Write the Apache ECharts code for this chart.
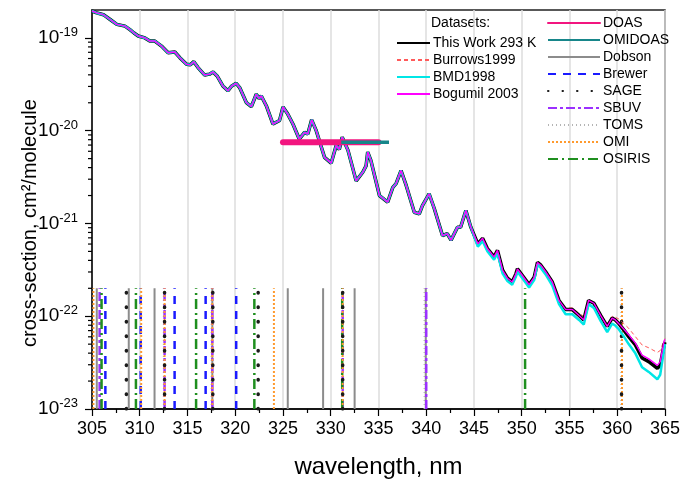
<!DOCTYPE html>
<html>
<head>
<meta charset="utf-8">
<script src="https://cdn.jsdelivr.net/npm/echarts@6/dist/echarts.min.js"></script>
<style>
html, body { margin: 0; padding: 0; background: #fff; }
#chart { width: 683px; height: 484px; }
</style>
</head>
<body>
<div id="chart"></div>
<script>
// wavelength grid, nm
const wavelengths = [
  305.0, 305.5, 306.2, 306.9, 307.6, 308.45, 308.97, 309.4, 309.84, 310.54,
  311.06, 311.58, 312.28, 312.97, 313.67, 314.2, 314.9, 315.3, 315.66, 316.1,
  316.8, 317.3, 317.68, 318.1, 318.7, 319.24, 319.6, 320.1, 320.46, 321.16,
  321.69, 322.2, 322.5, 322.73, 323.25, 323.95, 324.64, 325.0, 325.5, 326.04,
  326.7, 327.26, 327.6, 328.0, 328.48, 329.35, 330.05, 330.57, 330.9, 331.2,
  331.8, 332.66, 333.35, 333.7, 333.87, 334.2, 335.1, 335.96, 336.5, 336.84,
  337.36, 337.9, 338.75, 339.27, 339.6, 340.3, 340.84, 341.7, 342.2, 342.6,
  343.27, 343.6, 344.15, 344.67, 345.4, 345.9, 346.4, 347.1, 347.46, 348.0,
  348.5, 349.0, 349.4, 349.55, 350.07, 350.77, 351.3, 351.65, 352.0, 352.5,
  353.2, 353.9, 354.6, 355.3, 356.0, 356.5, 357.0, 357.56, 358.26, 358.95,
  359.47, 359.8, 360.17, 360.7, 361.2, 361.9, 362.6, 363.3, 364.2, 364.5,
  364.9, 365.0
];

// cross-sections, cm2/molecule
const thisWork = [
  1.95e-19, 1.86e-19, 1.78e-19, 1.58e-19, 1.40e-19, 1.34e-19, 1.23e-19, 1.13e-19, 1.05e-19, 1.00e-19,
  9.25e-20, 9.25e-20, 8.17e-20, 6.92e-20, 7.05e-20, 6.12e-20, 5.19e-20, 5.13e-20, 5.55e-20, 4.79e-20,
  3.98e-20, 4.07e-20, 4.30e-20, 3.89e-20, 3.04e-20, 2.69e-20, 3.02e-20, 3.24e-20, 2.92e-20, 2.01e-20,
  1.82e-20, 2.47e-20, 2.22e-20, 2.37e-20, 1.86e-20, 1.18e-20, 1.29e-20, 1.80e-20, 1.51e-20, 1.18e-20,
  8.13e-21, 9.59e-21, 9.20e-21, 1.31e-20, 1.00e-20, 5.16e-21, 4.47e-21, 6.92e-21, 6.31e-21, 8.51e-21,
  6.17e-21, 2.88e-21, 3.56e-21, 4.17e-21, 5.89e-21, 4.79e-21, 2.00e-21, 1.70e-21, 2.45e-21, 2.69e-21,
  3.72e-21, 2.57e-21, 1.32e-21, 1.27e-21, 1.56e-21, 2.09e-21, 1.45e-21, 7.41e-22, 7.76e-22, 6.61e-22,
  9.12e-22, 9.12e-22, 1.38e-21, 9.12e-22, 6.03e-22, 6.92e-22, 5.37e-22, 4.37e-22, 5.13e-22, 3.13e-22,
  2.57e-22, 2.34e-22, 2.88e-22, 3.24e-22, 2.75e-22, 2.19e-22, 2.63e-22, 3.80e-22, 3.55e-22, 3.02e-22,
  2.34e-22, 1.48e-22, 1.18e-22, 1.18e-22, 1.02e-22, 9.12e-23, 1.48e-22, 1.38e-22, 1.02e-22, 7.76e-23,
  9.55e-23, 9.12e-23, 8.32e-23, 7.08e-23, 6.03e-23, 4.90e-23, 3.55e-23, 3.24e-23, 2.75e-23, 2.95e-23,
  4.90e-23, 5.25e-23
];

const burrows1999 = [
  1.95e-19, 1.86e-19, 1.78e-19, 1.58e-19, 1.40e-19, 1.34e-19, 1.23e-19, 1.13e-19, 1.05e-19, 1.00e-19,
  9.25e-20, 9.25e-20, 8.17e-20, 6.92e-20, 7.05e-20, 6.12e-20, 5.19e-20, 5.13e-20, 5.55e-20, 4.79e-20,
  3.98e-20, 4.07e-20, 4.30e-20, 3.89e-20, 3.04e-20, 2.69e-20, 3.02e-20, 3.24e-20, 2.92e-20, 2.01e-20,
  1.82e-20, 2.47e-20, 2.22e-20, 2.37e-20, 1.86e-20, 1.18e-20, 1.29e-20, 1.80e-20, 1.51e-20, 1.18e-20,
  8.13e-21, 9.59e-21, 9.20e-21, 1.31e-20, 1.00e-20, 5.16e-21, 4.47e-21, 6.92e-21, 6.31e-21, 8.51e-21,
  6.17e-21, 2.88e-21, 3.56e-21, 4.17e-21, 5.89e-21, 4.79e-21, 2.00e-21, 1.70e-21, 2.45e-21, 2.69e-21,
  3.72e-21, 2.57e-21, 1.32e-21, 1.27e-21, 1.56e-21, 2.09e-21, 1.45e-21, 7.41e-22, 7.76e-22, 6.61e-22,
  9.12e-22, 9.12e-22, 1.38e-21, 9.12e-22, 6.03e-22, 6.92e-22, 5.37e-22, 4.37e-22, 5.13e-22, 3.13e-22,
  2.57e-22, 2.34e-22, 2.88e-22, 3.24e-22, 2.75e-22, 2.19e-22, 2.63e-22, 3.80e-22, 3.55e-22, 3.02e-22,
  2.34e-22, 1.48e-22, 1.23e-22, 1.23e-22, 1.07e-22, 1.00e-22, 1.48e-22, 1.38e-22, 1.05e-22, 8.32e-23,
  1.00e-22, 9.77e-23, 9.33e-23, 8.32e-23, 7.41e-23, 6.03e-23, 4.90e-23, 4.57e-23, 4.07e-23, 4.27e-23,
  5.50e-23, 5.75e-23
];

const bmd1998 = [
  1.95e-19, 1.86e-19, 1.78e-19, 1.58e-19, 1.40e-19, 1.34e-19, 1.23e-19, 1.13e-19, 1.05e-19, 1.00e-19,
  9.25e-20, 9.25e-20, 8.17e-20, 6.92e-20, 7.05e-20, 6.12e-20, 5.19e-20, 5.13e-20, 5.55e-20, 4.79e-20,
  3.98e-20, 4.07e-20, 4.30e-20, 3.89e-20, 3.04e-20, 2.69e-20, 3.02e-20, 3.24e-20, 2.92e-20, 2.01e-20,
  1.82e-20, 2.47e-20, 2.22e-20, 2.37e-20, 1.86e-20, 1.18e-20, 1.29e-20, 1.80e-20, 1.51e-20, 1.18e-20,
  8.13e-21, 9.59e-21, 9.20e-21, 1.31e-20, 1.00e-20, 5.16e-21, 4.47e-21, 6.92e-21, 6.31e-21, 8.51e-21,
  6.17e-21, 2.88e-21, 3.56e-21, 4.17e-21, 5.89e-21, 4.79e-21, 2.00e-21, 1.70e-21, 2.45e-21, 2.69e-21,
  3.72e-21, 2.57e-21, 1.32e-21, 1.27e-21, 1.56e-21, 2.09e-21, 1.45e-21, 7.41e-22, 7.76e-22, 6.61e-22,
  9.12e-22, 9.12e-22, 1.38e-21, 9.12e-22, 5.62e-22, 6.46e-22, 5.01e-22, 4.07e-22, 4.79e-22, 2.88e-22,
  2.40e-22, 2.19e-22, 2.69e-22, 3.02e-22, 2.57e-22, 2.04e-22, 2.45e-22, 3.63e-22, 3.31e-22, 2.82e-22,
  2.14e-22, 1.35e-22, 1.05e-22, 1.05e-22, 9.12e-23, 8.13e-23, 1.35e-22, 1.23e-22, 8.91e-23, 6.76e-23,
  8.32e-23, 7.94e-23, 7.24e-23, 6.03e-23, 5.01e-23, 3.98e-23, 2.82e-23, 2.51e-23, 2.09e-23, 2.34e-23,
  4.37e-23, 5.01e-23
];

const bogumil2003 = [
  1.95e-19, 1.86e-19, 1.78e-19, 1.58e-19, 1.40e-19, 1.34e-19, 1.23e-19, 1.13e-19, 1.05e-19, 1.00e-19,
  9.25e-20, 9.25e-20, 8.17e-20, 6.92e-20, 7.05e-20, 6.12e-20, 5.19e-20, 5.13e-20, 5.55e-20, 4.79e-20,
  3.98e-20, 4.07e-20, 4.30e-20, 3.89e-20, 3.04e-20, 2.69e-20, 3.02e-20, 3.24e-20, 2.92e-20, 2.01e-20,
  1.82e-20, 2.47e-20, 2.22e-20, 2.37e-20, 1.86e-20, 1.18e-20, 1.29e-20, 1.80e-20, 1.51e-20, 1.18e-20,
  8.13e-21, 9.59e-21, 9.20e-21, 1.31e-20, 1.00e-20, 5.16e-21, 4.47e-21, 6.92e-21, 6.31e-21, 8.51e-21,
  6.17e-21, 2.88e-21, 3.56e-21, 4.17e-21, 5.89e-21, 4.79e-21, 2.00e-21, 1.70e-21, 2.45e-21, 2.69e-21,
  3.72e-21, 2.57e-21, 1.32e-21, 1.27e-21, 1.56e-21, 2.09e-21, 1.45e-21, 7.41e-22, 7.76e-22, 6.61e-22,
  9.12e-22, 9.12e-22, 1.38e-21, 9.12e-22, 6.03e-22, 6.92e-22, 5.37e-22, 4.37e-22, 5.13e-22, 3.13e-22,
  2.57e-22, 2.34e-22, 2.88e-22, 3.24e-22, 2.75e-22, 2.19e-22, 2.63e-22, 3.80e-22, 3.55e-22, 3.02e-22,
  2.34e-22, 1.48e-22, 1.18e-22, 1.18e-22, 1.02e-22, 9.12e-23, 1.48e-22, 1.38e-22, 1.02e-22, 7.76e-23,
  9.55e-23, 9.12e-23, 8.32e-23, 7.24e-23, 6.31e-23, 5.13e-23, 3.80e-23, 3.47e-23, 2.95e-23, 3.24e-23,
  5.37e-23, 5.62e-23
];

// fitting windows
const doasRange = [325.0, 335.0];
const omiDoasRange = [331.1, 336.1];
const windowLevel = 7.5e-21;

// instrument wavelengths, nm
const dobsonNm = [305.5, 308.85, 311.55, 317.6, 325.5, 329.2, 332.5, 339.95];
const brewerNm = [306.4, 310.1, 313.65, 316.9, 320.1];
const sageNm = [308.6, 312.6, 317.65, 322.4, 331.25, 360.45];
const sbuvNm = [305.8, 312.6, 317.6, 331.25, 340.0];
const tomsNm = [312.5, 317.5, 331.2, 339.8, 360.4];
const omiNm = [305.15, 310.15, 312.6, 317.6, 324.05, 331.25, 360.5];
const osirisNm = [306.0, 309.6, 315.9, 322.0, 331.2, 350.35];
const markerBottom = 1e-23;
const markerTop = 2e-22;

// axis ticks
const yMajorTicks = [1e-23, 1e-22, 1e-21, 1e-20, 1e-19];
const yMinorTicks = [
  2e-23, 3e-23, 4e-23, 5e-23, 6e-23, 7e-23, 8e-23, 9e-23,
  2e-22, 3e-22, 4e-22, 5e-22, 6e-22, 7e-22, 8e-22, 9e-22,
  2e-21, 3e-21, 4e-21, 5e-21, 6e-21, 7e-21, 8e-21, 9e-21,
  2e-20, 3e-20, 4e-20, 5e-20, 6e-20, 7e-20, 8e-20, 9e-20
];

const FONT = "'Liberation Sans', Arial, sans-serif";

const pairs = (xs, ys) => xs.map((x, i) => [x, ys[i]]);
const verticals = nms => nms.flatMap(w => [[w, markerBottom], [w, markerTop], [w, '-']]);

const curve = (name, data, color, width, type, z) => ({
  name, type: 'line', data, z,
  symbol: 'none', smooth: false,
  lineStyle: { color, width, type },
  itemStyle: { color }
});

const marker = (name, nms, color, width, type, cap) => ({
  name, type: 'line', data: verticals(nms), z: 3,
  symbol: 'none', connectNulls: false,
  lineStyle: { color, width, type, cap: cap || 'butt' },
  itemStyle: { color }
});

const chart = echarts.init(document.getElementById('chart'), null, { renderer: 'canvas' });

const option = {
  backgroundColor: '#fff',
  animation: false,
  textStyle: { fontFamily: FONT, color: '#000' },
  grid: {
    left: 92, right: 17, top: 10, bottom: 73,
    show: true, borderColor: '#222', borderWidth: 1.5
  },
  legend: [
    {
      data: ['This Work 293 K', 'Burrows1999', 'BMD1998', 'Bogumil 2003'],
      orient: 'vertical', left: 391, top: 31,
      itemWidth: 33, itemHeight: 14, itemGap: 3,
      itemStyle: { opacity: 0 },
      textStyle: { fontSize: 14, fontFamily: FONT, color: '#000', padding: [0, 0, 0, -2] }
    },
    {
      data: ['DOAS', 'OMIDOAS', 'Dobson', 'Brewer', 'SAGE', 'SBUV', 'TOMS', 'OMI', 'OSIRIS'],
      orient: 'vertical', left: 542, top: 11,
      itemWidth: 52, itemHeight: 14, itemGap: 3,
      itemStyle: { opacity: 0 },
      textStyle: { fontSize: 14, fontFamily: FONT, color: '#000', padding: [0, 0, 0, -2] }
    }
  ],
  graphic: [
    {
      type: 'text', left: 431, top: 16,
      style: { text: 'Datasets:', fontSize: 14, fontFamily: FONT, fill: '#000' }
    },
    {
      type: 'text', x: 30, y: 223, rotation: Math.PI / 2,
      style: {
        text: 'cross-section, cm\u00B2/molecule', fontSize: 20, fontFamily: FONT,
        fill: '#000', align: 'center', verticalAlign: 'middle'
      }
    }
  ],
  xAxis: {
    type: 'value', min: 305, max: 365, interval: 5,
    name: 'wavelength, nm', nameLocation: 'middle', nameGap: 46,
    nameTextStyle: { fontSize: 24, fontFamily: FONT, color: '#000' },
    axisLine: { lineStyle: { color: '#000', width: 1.5 } },
    axisTick: { length: 7, lineStyle: { color: '#000', width: 1.2 } },
    minorTick: { show: true, splitNumber: 2, length: 4, lineStyle: { color: '#000', width: 1.2 } },
    axisLabel: { fontSize: 18, margin: 11, color: '#000', fontFamily: FONT },
    splitLine: { show: true, lineStyle: { color: '#dcdcdc', width: 1.5 } }
  },
  yAxis: {
    type: 'log', logBase: 10, min: 1e-23, max: 2e-19,
    axisLine: { show: true, lineStyle: { color: '#000', width: 1.5 } },
    axisTick: { show: true, length: 7, customValues: yMajorTicks, lineStyle: { color: '#000', width: 1.2 } },
    splitLine: { show: false },
    axisLabel: {
      customValues: yMajorTicks,
      margin: 14,
      formatter: v => '{b|10}{s|' + Math.round(Math.log10(v)) + '}',
      rich: {
        b: { fontSize: 19, lineHeight: 24, fontFamily: FONT, color: '#000', verticalAlign: 'middle' },
        s: { fontSize: 13, lineHeight: 14, fontFamily: FONT, color: '#000', verticalAlign: 'top' }
      }
    }
  },
  series: [
    curve('Burrows1999', pairs(wavelengths, burrows1999), '#ff5a5a', 1, [4, 3], 4),
    curve('This Work 293 K', pairs(wavelengths, thisWork), '#000000', 3.5, 'solid', 5),
    curve('BMD1998', pairs(wavelengths, bmd1998), '#00e6e6', 2.5, 'solid', 6),
    curve('Bogumil 2003', pairs(wavelengths, bogumil2003), '#ff00ff', 1.4, 'solid', 7),
    marker('Dobson', dobsonNm, '#8c8c8c', 2, 'solid'),
    marker('TOMS', tomsNm, '#b4b4b4', 1.5, [1, 3]),
    marker('Brewer', brewerNm, '#1a1aff', 2.5, [8, 7]),
    marker('SBUV', sbuvNm, '#9b30ff', 2.5, [9, 3, 3, 3]),
    marker('OSIRIS', osirisNm, '#1f8f1f', 2.5, [10, 4, 2, 4]),
    marker('OMI', omiNm, '#ff9a2e', 2, [2, 2]),
    marker('SAGE', sageNm, '#1a1a1a', 3.5, [0.5, 14], 'round'),
    {
      name: 'DOAS', type: 'line', z: 8, symbol: 'none',
      data: pairs(doasRange, [windowLevel, windowLevel]),
      lineStyle: { color: '#f2157f', width: 6, cap: 'round' },
      itemStyle: { color: '#f2157f' }
    },
    {
      name: 'OMIDOAS', type: 'line', z: 9, symbol: 'none',
      data: pairs(omiDoasRange, [windowLevel, windowLevel]),
      lineStyle: { color: '#17868a', width: 3.5 },
      itemStyle: { color: '#17868a' }
    },
    {
      type: 'custom', silent: true, clip: false, z: 10,
      data: yMinorTicks.map(v => [305, v]),
      renderItem: (params, api) => {
        const p = api.coord([api.value(0), api.value(1)]);
        return {
          type: 'line',
          shape: { x1: p[0] - 4, y1: p[1], x2: p[0], y2: p[1] },
          style: { stroke: '#000', lineWidth: 1.2 }
        };
      }
    }
  ]
};

chart.setOption(option);
</script>
</body>
</html>
